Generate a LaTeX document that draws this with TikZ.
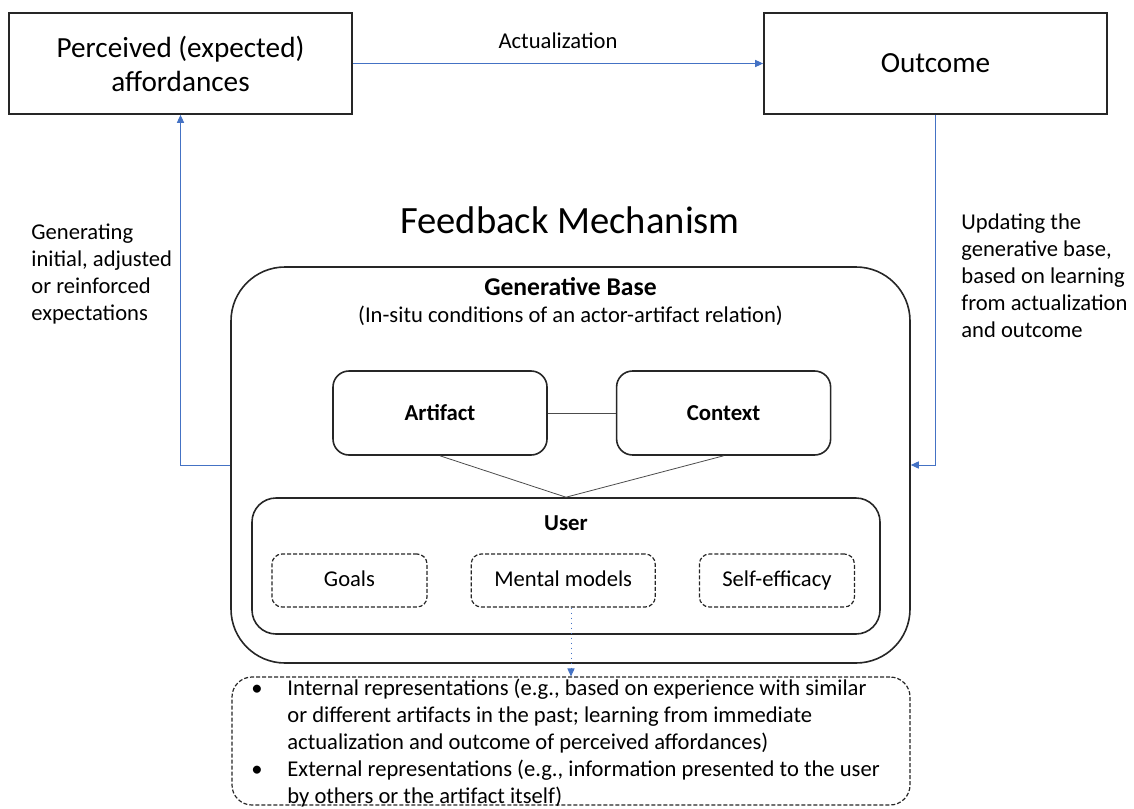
\documentclass[tikz,border=0pt]{standalone}
\usepackage{fontspec}
\setmainfont{Carlito}
\usetikzlibrary{arrows.meta,positioning}
\definecolor{linkblue}{RGB}{68,114,196}
\tikzset{
  bigbox/.style={draw=black!85,line width=0.9pt,minimum width=171.5pt,minimum height=50.5pt,align=center,font=\fontsize{14.6}{17}\selectfont},
  genbox/.style={draw=black!85,line width=0.8pt,rounded corners=27pt,minimum width=339.5pt,minimum height=198pt},
  inbox/.style={draw=black!85,line width=0.8pt,rounded corners=8pt,minimum width=107pt,minimum height=42pt,font=\fontsize{11.4}{13.5}\selectfont\bfseries},
  userbox/.style={draw=black!85,line width=0.8pt,rounded corners=12pt,minimum width=314pt,minimum height=68pt},
  dashbox/.style={draw=black!85,line width=0.6pt,dash pattern=on 2pt off 1pt,rounded corners=5pt,minimum width=77.5pt,minimum height=26.5pt,text height=8pt,text depth=2.5pt,font=\fontsize{11.3}{13.5}\selectfont},
  infobox/.style={draw=black!85,line width=0.6pt,dash pattern=on 2pt off 1pt,rounded corners=10pt,minimum width=339pt,minimum height=64pt},
  flow/.style={draw=linkblue,line width=0.5pt,-{Triangle[length=4pt,width=3.6pt]}},
  dotflow/.style={flow,dotted},
  lbl/.style={font=\fontsize{11.3}{13.5}\selectfont},
  sidelbl/.style={lbl,align=left,inner sep=0pt,anchor=north west}
}
\begin{document}
\begin{tikzpicture}[x=0.5pt,y=-0.5pt]
\useasboundingbox (0,0) rectangle (1134,808);
% top row
\node[bigbox] (perc) at (180.5,63.5) {Perceived (expected)\\affordances};
\node[bigbox] (outc) at (935.5,63.5) {Outcome};
\draw[flow] (perc) -- (outc) node[midway,above=4pt,lbl] {Actualization};
\node[anchor=base,font=\fontsize{19.3}{23}\selectfont] (title) at (570,233) {Feedback Mechanism};
% generative base
\node[genbox] (gen) at (570.5,465) {};
\node[anchor=base,font=\fontsize{12.8}{15}\selectfont\bfseries] (gbname) at ([yshift=-14.5pt]gen.north) {Generative Base};
\node[anchor=base,font=\fontsize{11.3}{13.5}\selectfont] (gbnote) at ([yshift=-28pt]gen.north) {(In-situ conditions of an actor-artifact relation)};
\node[inbox] (art) at (440,413) {Artifact};
\node[inbox,right=34pt of art] (ctx) {Context};
\draw[black!70,line width=0.4pt] (art) -- (ctx);
\node[userbox] (user) at (566,566) {};
\node[anchor=base,font=\fontsize{11.4}{13.5}\selectfont\bfseries] (usr) at ([yshift=-16.5pt]user.north) {User};
\draw[black!70,line width=0.4pt] (art.south) -- (user.north) -- (ctx.south);
\node[dashbox] (goals) at (349.5,580.5) {Goals};
\node[dashbox,minimum width=92pt,right=21.5pt of goals] (mental) {Mental models};
\node[dashbox,right=21.5pt of mental] (self) {Self-efficacy};
% representations
\node[infobox] (info) at (571,741) {};
\node[anchor=north west,inner sep=0pt,font=\fontsize{11.3}{13.5}\selectfont] (infotext) at (251,676) {%
\begin{tabular}{@{}p{18pt}@{}l@{}}
\textbullet & Internal representations (e.g., based on experience with similar\\
 & or different artifacts in the past; learning from immediate\\
 & actualization and outcome of perceived affordances)\\
\textbullet & External representations (e.g., information presented to the user\\
 & by others or the artifact itself)
\end{tabular}};
\draw[dotflow] (mental.south -| info.north) -- (info.north);
% feedback loop
\draw[flow] (gen.west) -| (perc.south);
\draw[flow] (outc.south) |- (gen.east);
\node[sidelbl] (genlbl) at (31,223) {Generating\\initial, adjusted\\or reinforced\\expectations};
\node[sidelbl] (updlbl) at (961,213) {Updating the\\generative base,\\based on learning\\from actualization\\and outcome};
\end{tikzpicture}
\end{document}
